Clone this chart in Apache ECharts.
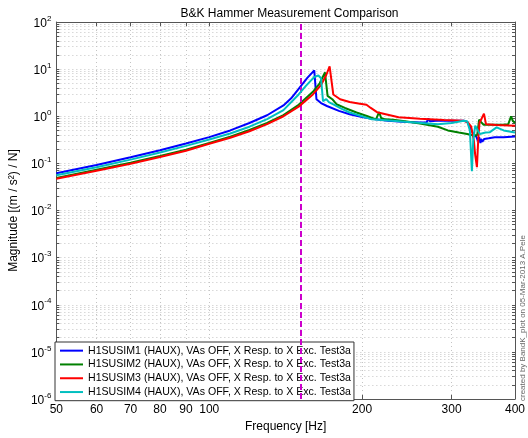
<!DOCTYPE html>
<html>
<head>
<meta charset="utf-8">
<script src="https://cdn.jsdelivr.net/npm/echarts@6/dist/echarts.min.js"></script>
<style>html,body{margin:0;padding:0;background:#fff;}#c{width:528px;height:438px;}</style>
</head>
<body>
<div id="c"></div>
<script>
// ---- data (frequency in Hz, magnitude in (m/s^2)/N) ----
const freqTicks = [50, 60, 70, 80, 90, 100, 200, 300, 400];
const magDecadeExps = [-6, -5, -4, -3, -2, -1, 0, 1, 2];
const markerFreq = 150;
const seriesNames = [
  'H1SUSIM1 (HAUX), VAs OFF, X Resp. to X Exc. Test3a',
  'H1SUSIM2 (HAUX), VAs OFF, X Resp. to X Exc. Test3a',
  'H1SUSIM3 (HAUX), VAs OFF, X Resp. to X Exc. Test3a',
  'H1SUSIM4 (HAUX), VAs OFF, X Resp. to X Exc. Test3a'
];
const blueF = [50,60,70,80,90,100,110,120,130,140,145,150,156,161,162.6,166,170.5,180,189,200,209,225,240,260,268,270,272,280,300,318,322,326,330,333,336,338,340,342,343,345,348,355,365,380,400];
const blueM = [0.062,0.092,0.135,0.19,0.265,0.36,0.50,0.72,1.05,1.7,2.4,3.8,6.5,9.4,2.3,1.9,1.65,1.3,1.1,0.96,0.88,0.8,0.76,0.74,0.74,0.9,0.78,0.8,0.8,0.8,0.76,0.6,0.45,0.4,0.36,0.3,0.36,0.27,0.33,0.29,0.33,0.34,0.36,0.36,0.37];
const greenF = [50,60,70,80,90,100,110,120,130,140,150,160,165,169,171,174.7,178,185,195,205,213,216,218,222,230,243,260,282,295,310,322,333,337,340,343,347,360,378,388,393,396,400];
const greenM = [0.049,0.073,0.103,0.143,0.195,0.27,0.37,0.51,0.72,1.06,1.75,3.3,5.0,8.5,2.7,2.3,1.8,1.5,1.2,1.0,0.86,1.23,0.92,0.86,0.84,0.78,0.7,0.6,0.5,0.45,0.42,0.385,0.4,0.85,0.75,0.66,0.66,0.66,0.68,1.0,0.8,0.72];
const redF = [50,60,70,80,90,100,110,120,130,140,150,160,166,170,172.6,175.5,181,189,198,204,208,214,236,260,290,317,323,328,332,334,336.6,338.5,340.6,344,347.5,350.7,368,400];
const redM = [0.047,0.070,0.098,0.136,0.185,0.26,0.35,0.48,0.68,1.0,1.6,2.9,4.6,7.5,11.5,2.9,2.3,2.0,1.85,1.75,1.5,1.22,0.95,0.88,0.83,0.8,0.74,0.6,0.3,0.15,0.083,0.3,0.74,0.9,1.14,0.68,0.65,0.63];
const cyanF = [50,60,70,80,90,100,110,120,130,140,150,155,158,161,164,166,167.5,170,172,175.5,182,189,209,243,282,300,317,322,326,329,331,334,338,341,350,357,368,380,400];
const cyanM = [0.056,0.083,0.12,0.17,0.235,0.32,0.43,0.6,0.87,1.35,2.9,4.4,5.5,6.8,7.3,6.4,2.1,2.3,2.0,1.79,1.45,1.2,0.86,0.76,0.68,0.72,0.8,0.78,0.5,0.068,0.3,0.63,0.5,0.42,0.45,0.46,0.58,0.5,0.45];
const colors = ['#0000ff', '#008000', '#ff0000', '#00bfbf'];

// ---- build ----
const L = Math.log10;
const toPairs = (f, m) => f.map((v, i) => [L(v), L(m[i])]);
const seriesData = [toPairs(blueF, blueM), toPairs(greenF, greenM), toPairs(redF, redM), toPairs(cyanF, cyanM)];
const xTickVals = freqTicks.map(L);
const yMajor = magDecadeExps.slice();
const yAll = [];
magDecadeExps.forEach((e, i) => {
  yAll.push(e);
  if (i < magDecadeExps.length - 1) for (let k = 2; k <= 9; k++) yAll.push(e + L(k));
});
const FONT = 'Liberation Sans, Arial, Helvetica, sans-serif';
const gridLine = { show: true, lineStyle: { type: [1, 3], color: '#c4c4c4', width: 1 } };
const axisLineStyle = { show: true, onZero: false, lineStyle: { color: '#555', width: 1 } };

const chart = echarts.init(document.getElementById('c'), null, { renderer: 'canvas' });
const option = {
  animation: false,
  backgroundColor: '#fff',
  textStyle: { fontFamily: FONT },
  grid: { left: 50, right: 9, top: 22, bottom: 36, containLabel: false },
  title: {
    text: 'B&K Hammer Measurement Comparison',
    left: 284.5, top: 3, textAlign: 'center',
    textStyle: { fontSize: 12, fontWeight: 'normal', color: '#000', fontFamily: FONT }
  },
  legend: {
    orient: 'vertical', left: 55, top: 342,
    itemWidth: 23, itemHeight: 2, itemGap: 0.5, icon: 'rect',
    padding: [2, 3, 2, 5],
    backgroundColor: '#fff', borderColor: '#333', borderWidth: 1, borderRadius: 0,
    textStyle: { fontSize: 10.6, lineHeight: 13.3, color: '#000', fontFamily: FONT },
    data: seriesNames
  },
  xAxis: [
    {
      type: 'value', position: 'bottom', min: L(50), max: L(400),
      axisLine: axisLineStyle,
      axisTick: { show: true, inside: true, length: 4, customValues: xTickVals, lineStyle: { color: '#555' } },
      axisLabel: { show: true, customValues: xTickVals, margin: 5, fontSize: 12, color: '#000', fontFamily: FONT,
        alignMinLabel: 'center', alignMaxLabel: 'center', hideOverlap: false,
        formatter: v => String(Math.round(Math.pow(10, v))) },
      splitLine: gridLine,
      name: 'Frequency [Hz]', nameLocation: 'middle', nameGap: 22,
      nameTextStyle: { fontSize: 12, color: '#000', fontFamily: FONT }
    },
    {
      type: 'value', position: 'top', min: L(50), max: L(400),
      axisLine: axisLineStyle,
      axisTick: { show: true, inside: true, length: 4, customValues: xTickVals, lineStyle: { color: '#555' } },
      axisLabel: { show: false }, splitLine: { show: false }
    }
  ],
  yAxis: [
    {
      type: 'value', position: 'left', min: -6, max: 2,
      axisLine: axisLineStyle,
      axisTick: { show: true, inside: true, length: 3, customValues: yAll, lineStyle: { color: '#555' } },
      axisLabel: { show: true, customValues: yMajor, margin: 5, color: '#000', fontFamily: FONT,
        formatter: v => '{b|10}{s|' + Math.round(v) + '}',
        rich: {
          b: { fontSize: 12, lineHeight: 15, verticalAlign: 'bottom', fontFamily: FONT, color: '#000' },
          s: { fontSize: 8, lineHeight: 8, verticalAlign: 'top', fontFamily: FONT, color: '#000' }
        } },
      splitLine: gridLine,
      name: 'Magnitude [(m / s²) / N]', nameLocation: 'middle', nameGap: 30, nameRotate: 90,
      nameTextStyle: { fontSize: 12, color: '#000', fontFamily: FONT }
    },
    {
      type: 'value', position: 'right', min: -6, max: 2,
      axisLine: axisLineStyle,
      axisTick: { show: true, inside: true, length: 3, customValues: yAll, lineStyle: { color: '#555' } },
      axisLabel: { show: false }, splitLine: { show: false }
    }
  ],
  series: seriesData.map((d, i) => ({
    name: seriesNames[i], type: 'line', data: d, showSymbol: false, symbol: 'none',
    xAxisIndex: 0, yAxisIndex: 0,
    lineStyle: { color: colors[i], width: 2 }, itemStyle: { color: colors[i] },
    z: 3 + i,
    markLine: i === 0 ? {
      silent: true, symbol: 'none', label: { show: false },
      lineStyle: { color: '#cc00cc', width: 2, type: [6, 3] },
      data: [{ xAxis: L(markerFreq) }]
    } : undefined
  })),
  graphic: [{
    type: 'text', x: 523, y: 401, rotation: Math.PI / 2,
    style: { text: 'created by BandK_plot on 05-Mar-2013 A.Pele', fontSize: 8, fill: '#666',
      align: 'left', verticalAlign: 'middle', fontFamily: FONT }
  }]
};
chart.setOption(option);
</script>
</body>
</html>
